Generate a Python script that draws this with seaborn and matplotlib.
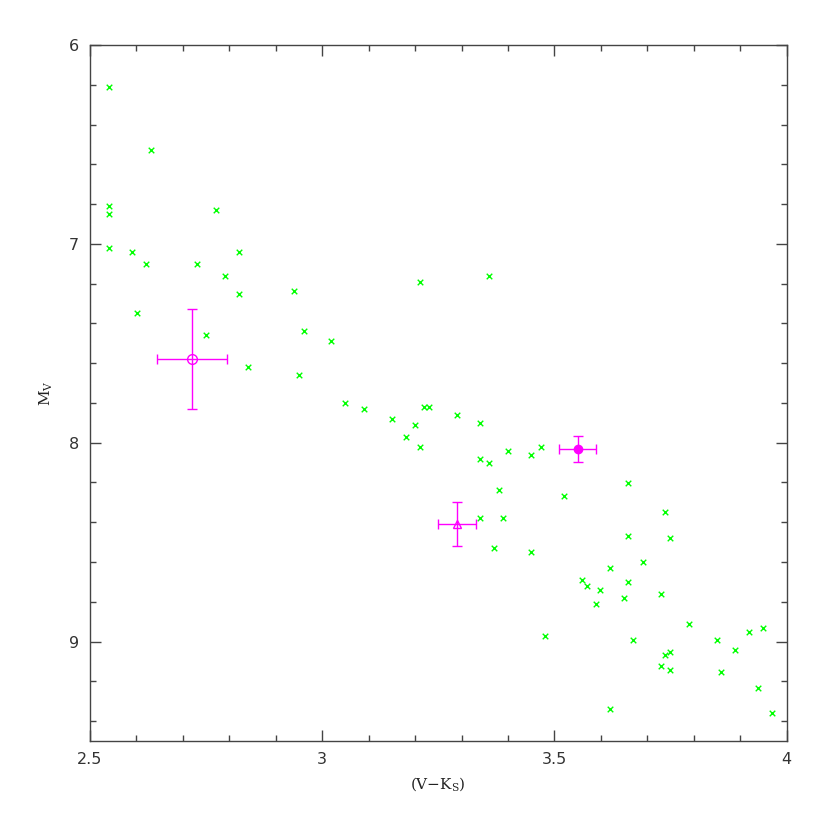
import numpy as np
import matplotlib
matplotlib.use("Agg")
import matplotlib.pyplot as plt
import seaborn as sns
import pandas as pd

# colour V-Ks and absolute magnitude M_V of the comparison stars
vk = [2.540, 2.631, 2.540, 2.540, 2.771, 2.540, 2.590, 2.820, 2.620, 2.730,
      2.791, 2.820, 2.940, 2.601, 2.750, 2.960, 3.019, 2.840, 2.950, 3.210,
      3.360, 3.050, 3.091, 3.150, 3.200, 3.180, 3.210, 3.220, 3.230, 3.290,
      3.340, 3.400, 3.450, 3.470, 3.340, 3.360, 3.380, 3.520, 3.340, 3.390,
      3.370, 3.450, 3.659, 3.739, 3.659, 3.749, 3.690, 3.619, 3.559, 3.569,
      3.659, 3.599, 3.730, 3.650, 3.589, 3.790, 3.480, 3.670, 3.850, 3.919,
      3.950, 3.889, 3.749, 3.739, 3.730, 3.749, 3.859, 3.939, 3.619, 3.969]
mv = [6.210, 6.529, 6.809, 6.850, 6.830, 7.021, 7.041, 7.041, 7.101, 7.101,
      7.160, 7.250, 7.238, 7.349, 7.460, 7.439, 7.490, 7.620, 7.661, 7.190,
      7.160, 7.801, 7.830, 7.880, 7.911, 7.971, 8.021, 7.820, 7.820, 7.860,
      7.900, 8.041, 8.060, 8.021, 8.081, 8.100, 8.239, 8.269, 8.380, 8.380,
      8.530, 8.551, 8.201, 8.349, 8.470, 8.480, 8.601, 8.631, 8.690, 8.720,
      8.701, 8.742, 8.760, 8.780, 8.810, 8.910, 8.970, 8.990, 8.990, 8.950,
      8.931, 9.040, 9.050, 9.070, 9.121, 9.141, 9.151, 9.231, 9.340, 9.360]

# the three highlighted objects with errors
obj_vk = [2.72, 3.29, 3.55]
obj_mv = [7.58, 8.41, 8.03]
obj_vk_err = [0.075, 0.04, 0.04]
obj_mv_err = [0.25, 0.11, 0.065]
obj_marker = ["o", "^", "o"]
obj_filled = [False, False, True]

df = pd.DataFrame({"vk": vk, "mv": mv})

sns.set_style("ticks")
plt.rcParams["mathtext.fontset"] = "dejavuserif"
green = "#00ff00"
magenta = "#ff00ff"

fig = plt.figure(figsize=(8.3, 8.3), dpi=100)
ax = fig.add_axes([90/830, 1 - 741/830, (786.7 - 90)/830, (741 - 45)/830])

sns.scatterplot(data=df, x="vk", y="mv", marker="x", color=green, s=16,
                linewidth=1.0, ax=ax, legend=False, zorder=3)

for x, y, xe, ye, m, f in zip(obj_vk, obj_mv, obj_vk_err, obj_mv_err, obj_marker, obj_filled):
    ax.errorbar(x, y, xerr=xe, yerr=ye, fmt="none", ecolor=magenta,
                elinewidth=1, capsize=3.6, capthick=1, zorder=2)
    ms = 7 if m == "o" and not f else 6
    ax.plot(x, y, marker=m, ms=ms, mew=1, color=magenta,
            mfc=magenta if f else "none", linestyle="none", zorder=4)

ax.set_xlim(2.5, 4)
ax.set_ylim(9.5, 6)
ax.set_xticks([2.5, 3, 3.5, 4])
ax.set_xticklabels(["2.5", "3", "3.5", "4"])
ax.set_yticks([6, 7, 8, 9])
ax.set_yticklabels(["6", "7", "8", "9"])
ax.set_xticks(np.arange(2.5, 4.001, 0.1), minor=True)
ax.set_yticks(np.arange(6, 9.501, 0.2), minor=True)
ax.tick_params(which="both", direction="in", top=True, right=True,
               color="#444444", labelsize=11.5, labelcolor="#333333")
ax.tick_params(which="major", length=8, width=1, pad=8)
ax.tick_params(which="minor", length=4.5, width=1)
for sp in ax.spines.values():
    sp.set_linewidth(1)
    sp.set_color("#444444")

serif = {"family": ["DejaVu Serif"], "size": 11, "color": "#222222"}
ax.set_xlabel(r"(V$-$K$_{\rm S}$)", fontdict=serif, labelpad=6)
ax.set_ylabel(r"M$_{\rm V}$", fontdict=serif, labelpad=10)

fig.savefig("out.png", dpi=100)
